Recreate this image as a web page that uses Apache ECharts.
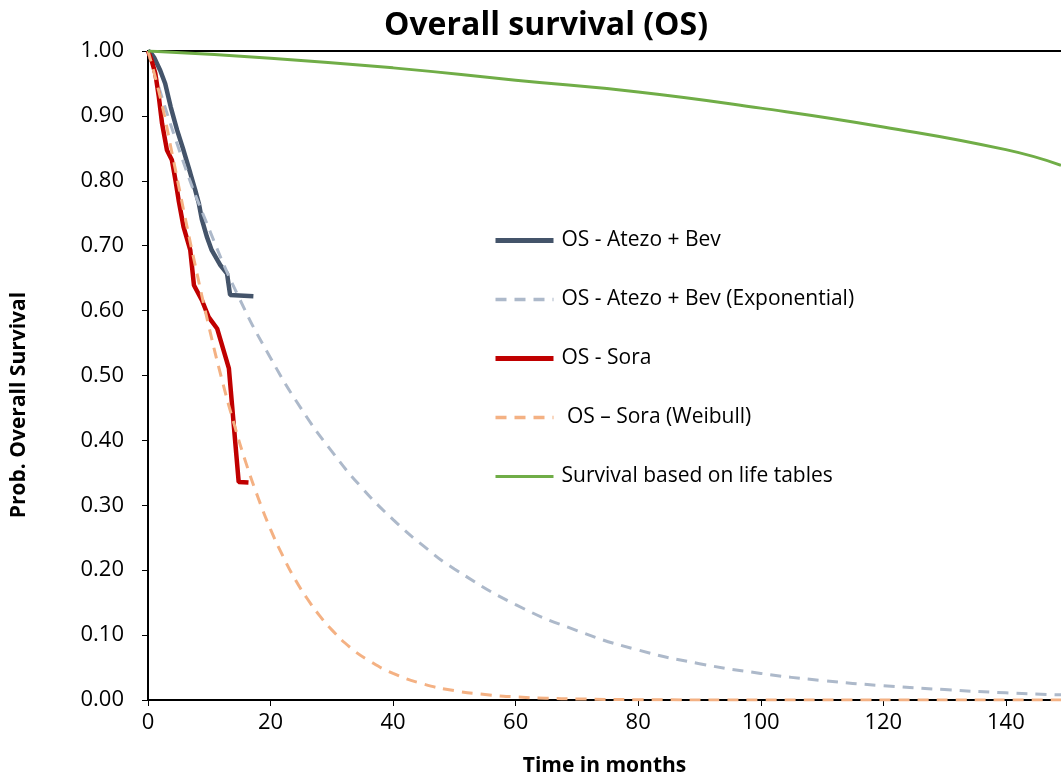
<!DOCTYPE html>
<html>
<head>
    <meta charset="UTF-8">
    <script src="https://cdn.jsdelivr.net/npm/echarts@6/dist/echarts.min.js"></script>
    <style>
        html, body { margin: 0; padding: 0; background: #fff; }
        #main { width: 1061px; height: 776px; }
    </style>
</head>
<body>
<div id="main"></div>
<script type="text/javascript">
    // Kaplan-Meier, Atezo + Bev
    var atezoKmT = [0, 0.4, 1, 1.5, 2.0, 2.8, 3.7, 4.75, 5.8, 6.9, 7.7, 8.3, 8.8, 9.6, 10.4, 11.8, 12.9, 13.4, 17.2];
    var atezoKmS = [1.0, 0.998, 0.99, 0.98, 0.97, 0.95, 0.914, 0.878, 0.847, 0.812, 0.786, 0.765, 0.74, 0.714, 0.693, 0.67, 0.657, 0.624, 0.622];
    // exponential fit, Atezo + Bev
    var atezoExpT = [0, 5, 10, 15, 20, 25, 30, 35, 40, 45, 50, 60, 70, 80, 90, 100, 110, 120, 130, 140, 149];
    var atezoExpS = [1.0, 0.85, 0.725, 0.617, 0.527, 0.449, 0.383, 0.326, 0.278, 0.237, 0.202, 0.147, 0.107, 0.077, 0.056, 0.041, 0.030, 0.022, 0.016, 0.011, 0.008];
    // Kaplan-Meier, Sora
    var soraKmT = [0, 0.6, 1.2, 1.76, 2.3, 3.1, 3.9, 4.5, 5.0, 5.8, 6.9, 7.5, 8.8, 9.9, 11.3, 13.2, 14.8, 16.4];
    var soraKmS = [1.0, 0.985, 0.965, 0.93, 0.888, 0.847, 0.832, 0.80, 0.77, 0.729, 0.693, 0.639, 0.616, 0.59, 0.572, 0.511, 0.336, 0.335];
    // weibull fit, Sora
    var soraWbT = [0, 2, 4, 6, 8, 10, 12, 14, 16, 18, 20, 22, 24, 26, 28, 30, 33, 36, 40, 45, 50, 55, 60, 65, 70, 80, 100, 120, 149];
    var soraWbS = [1.0, 0.929, 0.839, 0.746, 0.657, 0.573, 0.496, 0.427, 0.365, 0.311, 0.263, 0.222, 0.186, 0.156, 0.130, 0.108, 0.081, 0.061, 0.041, 0.0245, 0.0144, 0.0084, 0.0048, 0.0028, 0.0016, 0.0005, 0, 0, 0];
    // general population life tables
    var lifeT = [0, 20, 40, 60, 80, 100, 120, 140, 149];
    var lifeS = [1.0, 0.989, 0.974, 0.955, 0.937, 0.912, 0.883, 0.848, 0.824];

    var seriesNames = ['OS - Atezo + Bev', 'OS - Atezo + Bev (Exponential)', 'OS - Sora', ' OS \u2013 Sora (Weibull)', 'Survival based on life tables'];
    var legendWidths = [5, 3.5, 5, 3.5, 3];

    function zip(t, s) {
        var out = [];
        for (var i = 0; i < t.length; i++) {
            out.push([t[i], s[i]]);
        }
        return out;
    }

    var font = 'Open Sans';
    var myChart = echarts.init(document.getElementById('main'));
    var option = {
        animation: false,
        backgroundColor: '#fff',
        title: {
            text: 'Overall survival (OS)',
            left: 541,
            top: 5,
            textAlign: 'center',
            textStyle: {fontFamily: font, fontSize: 32, fontWeight: 'bold', color: '#000'}
        },
        legend: {
            orient: 'vertical',
            left: 488,
            top: 225,
            itemWidth: 58,
            itemHeight: 22,
            itemGap: 38,
            itemStyle: {opacity: 0},
            data: seriesNames.map(function (n, i) {
                return {name: n, lineStyle: {width: legendWidths[i]}};
            }),
            textStyle: {fontFamily: font, fontSize: 21, color: '#000', padding: [0, 0, 0, 3]}
        },
        grid: {left: 148, right: 0, top: 51, bottom: 76, outerBoundsMode: 'none', containLabel: false},
        xAxis: [{
            type: 'value',
            min: 0,
            max: 149,
            interval: 20,
            name: 'Time in months',
            nameLocation: 'middle',
            nameGap: 56,
            nameTextStyle: {fontFamily: font, fontSize: 21, fontWeight: 'bold', color: '#000'},
            axisLine: {lineStyle: {color: '#000', width: 2}},
            axisTick: {show: true, length: 6, lineStyle: {color: '#000', width: 1}},
            axisLabel: {fontFamily: font, fontSize: 22, color: '#000', margin: 12, showMaxLabel: false},
            splitLine: {show: false}
        }, {
            type: 'value',
            position: 'top',
            min: 0,
            max: 149,
            axisLine: {show: true, lineStyle: {color: '#000', width: 2}},
            axisTick: {show: false},
            axisLabel: {show: false},
            splitLine: {show: false}
        }],
        yAxis: {
            type: 'value',
            min: 0,
            max: 1,
            interval: 0.1,
            axisLine: {show: true, lineStyle: {color: '#000', width: 2}},
            axisTick: {show: true, length: 6, lineStyle: {color: '#000', width: 1}},
            axisLabel: {
                fontFamily: font, fontSize: 22, color: '#000', margin: 24,
                formatter: function (v) { return v.toFixed(2); }
            },
            splitLine: {show: false}
        },
        graphic: [{
            type: 'text',
            x: 19,
            y: 405,
            rotation: Math.PI / 2,
            style: {
                text: 'Prob. Overall Survival',
                fontFamily: font, fontSize: 21, fontWeight: 'bold', fill: '#000',
                align: 'center', verticalAlign: 'middle'
            }
        }],
        series: [
            {
                name: seriesNames[0], type: 'line', symbol: 'none',
                data: zip(atezoKmT, atezoKmS),
                lineStyle: {color: '#44546A', width: 4.5},
                itemStyle: {color: '#44546A'}
            },
            {
                name: seriesNames[1], type: 'line', symbol: 'none', smooth: true,
                data: zip(atezoExpT, atezoExpS),
                lineStyle: {color: '#ADB9CA', width: 3, type: [11, 8]},
                itemStyle: {color: '#ADB9CA'}
            },
            {
                name: seriesNames[2], type: 'line', symbol: 'none',
                data: zip(soraKmT, soraKmS),
                lineStyle: {color: '#C00000', width: 4.5},
                itemStyle: {color: '#C00000'}
            },
            {
                name: seriesNames[3], type: 'line', symbol: 'none', smooth: true,
                data: zip(soraWbT, soraWbS),
                lineStyle: {color: '#F4B183', width: 3, type: [11, 8]},
                itemStyle: {color: '#F4B183'}
            },
            {
                name: seriesNames[4], type: 'line', symbol: 'none', smooth: true,
                data: zip(lifeT, lifeS),
                lineStyle: {color: '#70AD47', width: 3},
                itemStyle: {color: '#70AD47'}
            }
        ]
    };
    myChart.setOption(option);
</script>
</body>
</html>
